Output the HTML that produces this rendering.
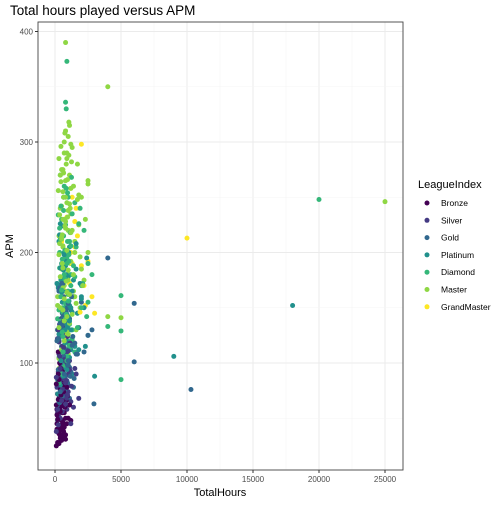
<!DOCTYPE html>
<html><head><meta charset="utf-8"><style>
body{margin:0;background:#fff;font-family:"Liberation Sans",sans-serif}
svg text{font-family:"Liberation Sans",sans-serif}
</style></head><body>
<svg id="chart" width="504" height="504" xmlns="http://www.w3.org/2000/svg">
<text x="10" y="15" font-size="13.5" fill="#000">Total hours played versus APM</text>
<rect x="38" y="22" width="365" height="448" fill="#fff"/>
<g id="grid"></g><g id="pts"></g>
<rect x="38" y="22" width="365" height="448" fill="none" stroke="#444" stroke-width="0.9"/>
<g id="axes"></g>
<text x="220" y="496" font-size="11" text-anchor="middle">TotalHours</text>
<text x="13" y="246" font-size="11" text-anchor="middle" transform="rotate(-90 13 246)">APM</text>
<g id="legend"></g>
</svg>
<script>
const leagueNames=["Bronze","Silver","Gold","Platinum","Diamond","Master","GrandMaster"];
const leagueColors=["#440154","#443A83","#31688E","#21908C","#35B779","#8FD744","#FDE725"];
const xTicks=[0,5000,10000,15000,20000,25000];
const yTicks=[100,200,300,400];
const bronzeHours=[200,400,300,600,150,500,800,250,700,350,450,900,100,550,650,300,1000,200,750,400,1200,500,300,850,600,150,450,700,350,1100,250,500,950,400,650,
100,300,500,700,200,400,600,800,150,350,550,750,250,450,650,900,100,300,500,700,200,400,1100,600,250,450,800,350,150,550];
const bronzeApm=[28,32,36,40,45,48,35,52,42,58,30,45,62,55,38,68,50,72,60,76,48,82,88,66,92,40,98,55,104,62,110,44,70,34,80,
25,27,30,33,38,42,46,50,53,57,61,64,67,71,74,78,81,85,39,44,49,56,62,35,90,95,31,100,58,66];
const silverHours=[300,600,200,900,450,1200,350,700,150,1000,500,800,250,1500,650,400,1100,300,750,550,1300,200,950,450,1800,600,350,850,500,1000,250,700,1400,400,600,900,300,1200,550,800,
100,250,400,550,700,850,1000,150,300,450,600,750,900,1100,200,350,500,650,800,950,1250,100,400,700,1000,300,600,900,1600,200,500,800,1100,350,650,950,250,550,850,1150];
const silverApm=[40,48,55,58,62,65,70,72,78,80,85,88,92,95,98,100,102,108,110,115,118,122,125,128,68,132,135,75,140,90,52,105,60,82,112,96,120,45,86,74,
38,44,50,56,62,68,74,80,86,92,98,104,110,116,122,128,134,138,63,71,79,87,95,103,111,119,127,100,90,58,66,82,94,106,114,124,130,76,84,118];
const goldHours=[200,500,800,300,1100,650,400,1400,900,250,700,1200,450,1000,600,350,1600,800,500,1300,300,950,700,1800,400,1100,550,850,2000,650,300,1500,750,450,1000,2200,600,900,2800,1200,6000,6000,10300,4000,2950,
150,350,550,750,950,1150,250,450,650,850,1050,1350,200,400,600,800,1000,1250,300,500,700,900,1100,1700,150,450,750,1050,350,650,950,1450,250,550,850,2500,400,700,1000,1300];
const goldApm=[48,55,60,65,68,72,75,78,82,85,88,92,95,98,102,105,108,112,115,118,122,125,128,132,135,140,145,150,155,160,165,118,88,70,138,110,172,100,130,148,154,101,76,195,63,
58,64,70,76,82,88,94,100,106,112,118,124,130,136,142,148,154,160,166,172,178,84,96,108,120,132,144,156,168,110,98,86,122,134,146,125,74,90,102,116];
const platHours=[300,700,500,1000,200,1300,800,400,1100,600,1500,900,350,1200,750,450,1700,1000,550,2000,650,250,1400,850,1600,500,2400,700,1100,300,2500,900,1800,400,600,2200,1300,800,3000,1000,18000,9000,
200,400,600,800,1000,1200,300,500,700,900,1100,1400,250,450,650,850,1050,1600,350,550,750,950,1300,2000,150,400,700,1000,300,600,900,1200,500,800,1100,2300,450,750,1050,1900];
const platApm=[62,70,75,80,85,90,95,100,105,110,115,120,125,130,135,140,145,150,155,160,165,170,175,180,185,190,195,200,205,210,125,140,112,226,98,150,165,188,88,178,152,106,
72,80,88,96,104,112,120,128,136,144,152,160,168,176,184,192,200,208,216,224,118,132,146,158,172,186,198,142,126,110,94,150,164,178,138,115,102,130,156,172];
const diaHours=[400,800,1200,600,1000,300,1500,700,900,500,1300,1100,200,1700,800,600,1400,1000,2000,450,1200,700,2500,900,350,1600,1100,650,2200,800,500,1300,1900,1000,700,2800,600,1200,900,400,2500,1500,800,900,850,20000,5000,5000,5000,4000,
300,500,700,900,1100,1300,200,400,600,800,1000,1200,1500,350,550,750,950,1150,1800,250,450,650,850,1050,2100,300,600,900,1400,500,800,1100,2400,400,700,1000,1700,600,900,1200,350,650,950,1250,450,750,1050,2000,550,850];
const diaApm=[72,80,88,95,100,105,110,115,120,125,130,135,140,145,150,155,160,165,170,175,180,185,190,195,200,205,210,215,220,225,230,235,240,250,260,180,150,120,200,270,155,245,336,373,330,248,161,129,85,133,
82,90,98,106,114,122,130,138,146,154,162,170,178,186,194,202,210,218,226,234,242,250,258,198,172,148,124,102,188,166,140,116,142,212,180,156,132,110,190,206,222,238,254,268,160,176,192,150,128,144];
const masterHours=[300,700,1000,500,1300,800,1600,400,1100,600,1900,900,200,1400,700,2200,1000,500,1200,800,2500,600,1500,300,1000,1800,700,1200,400,900,2000,600,1400,800,1100,500,1700,300,900,1300,700,2500,1000,600,800,1200,500,900,400,700,1100,600,1300,800,1000,1500,2000,2500,700,850,25000,4000,4000,5000,800,1200,
300,500,700,900,1100,1300,200,400,600,800,1000,1200,1500,350,550,750,950,1150,1700,250,450,650,850,1050,1900,300,600,900,1400,500,800,1100,2100,400,700,1000,1600,600,900,1200,350,650,950,1250,450,750,1050,2300,550,850,300,500,700,900,1100,400,600,800,1000,1800];
const masterApm=[95,100,108,115,120,125,130,135,140,145,150,155,160,165,170,175,180,185,190,195,200,205,210,215,220,225,230,235,240,245,250,255,260,265,270,275,280,285,290,295,300,265,305,275,310,258,242,285,270,290,315,230,220,250,175,160,185,262,140,200,246,350,142,141,390,298,
104,112,120,128,136,144,152,160,168,176,184,192,200,208,216,224,232,240,248,256,264,272,280,288,196,132,148,164,180,212,228,244,170,150,138,126,154,186,202,218,234,250,266,282,296,308,318,230,190,174,198,214,158,142,162,178,206,222,238,252];
const gmHours=[2000,1500,2500,1000,2800,1200,2300,800,1700,3000,1300,600,2000,1600,900,10000,700,1100,1500,900,1300,1900,500,1200,2200,800];
const gmApm=[298,228,192,180,160,200,152,165,215,145,250,140,188,240,175,213,160,172,205,232,190,146,210,258,170,124];
const seriesHours=[bronzeHours,silverHours,goldHours,platHours,diaHours,masterHours,gmHours];
const seriesApm=[bronzeApm,silverApm,goldApm,platApm,diaApm,masterApm,gmApm];

const NS="http://www.w3.org/2000/svg";
const X0=55,XS=66/5000,YS=110.5/100,Y0=473.5;
const xs=h=>X0+h*XS, ys=a=>Y0-a*YS;
function mk(tag,attrs,parent){const e=document.createElementNS(NS,tag);for(const k in attrs)e.setAttribute(k,attrs[k]);parent.appendChild(e);return e;}
const grid=document.getElementById('grid'),axes=document.getElementById('axes');
for(let v=-2500;v<=27500;v+=2500){const x=xs(v);if(x<38||x>403)continue;const major=v%5000===0;
 const l=mk('line',{x1:x,x2:x,y1:22,y2:470,stroke:major?'#ebebeb':'#f5f5f5','stroke-width':major?1:0.6},grid);
 
 }
for(let v=0;v<=450;v+=50){const y=ys(v);if(y<22||y>470)continue;const major=v%100===0;
 const l=mk('line',{x1:38,x2:403,y1:y,y2:y,stroke:major?'#ebebeb':'#f5f5f5','stroke-width':major?1:0.6},grid);
 
 }
xTicks.forEach(v=>{const x=xs(v);
 mk('line',{x1:x,x2:x,y1:470,y2:473,stroke:'#333'},axes);
 const t=mk('text',{x:x,y:482,'font-size':8,'text-anchor':'middle',fill:'#4d4d4d'},axes);t.textContent=v;
 
 });
yTicks.forEach(v=>{const y=ys(v);
 mk('line',{x1:35,x2:38,y1:y,y2:y,stroke:'#333'},axes);
 const t=mk('text',{x:33,y:y+3,'font-size':8,'text-anchor':'end',fill:'#4d4d4d'},axes);t.textContent=v;
 
 });
const pts=document.getElementById('pts');
const maxLen=Math.max(...seriesHours.map(a=>a.length));
const order=[4,0,5,2,1,3,6];
for(let i=0;i<maxLen;i++){
 order.forEach(li=>{const hs=seriesHours[li];if(i>=hs.length)return;
  const c=mk('circle',{cx:xs(hs[i]),cy:ys(seriesApm[li][i]),r:2.5,fill:leagueColors[li]},pts);
  
  });
}
const lg=document.getElementById('legend');
const lt=mk('text',{x:418,y:188,'font-size':11},lg);lt.textContent='LeagueIndex';


leagueNames.forEach((n,i)=>{const y=203+i*17.3;
 const c=mk('circle',{cx:427,cy:y,r:2.5,fill:leagueColors[i]},lg);
 
 
 const t=mk('text',{x:441,y:y+3,'font-size':8.5},lg);t.textContent=n;
 
 });
</script>
</body></html>
